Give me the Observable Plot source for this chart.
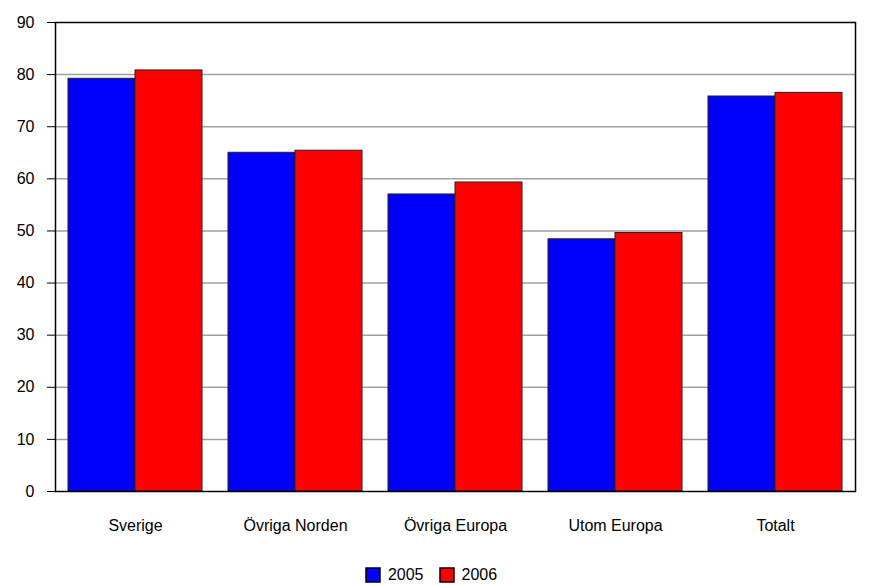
<!DOCTYPE html>
<html>
<head>
<meta charset="utf-8">
<script src="https://cdn.jsdelivr.net/npm/d3@7"></script>
<script src="https://cdn.jsdelivr.net/npm/@observablehq/plot@0.6"></script>
<style>
  body { margin: 0; background: #fff; font-family: "Liberation Sans", Arial, sans-serif; }
  #legend { display: flex; justify-content: center; margin-top: 8px; }
  #legend svg rect { stroke: #000; stroke-width: 1.5; }
</style>
</head>
<body>
<div id="chart"></div>
<div id="legend"></div>
<script>
const categories = ["Sverige", "Övriga Norden", "Övriga Europa", "Utom Europa", "Totalt"];
const series = ["2005", "2006"];
const values2005 = [79.2, 65.0, 57.0, 48.4, 75.8];
const values2006 = [80.8, 65.4, 59.3, 49.6, 76.5];
const yTicks = [0, 10, 20, 30, 40, 50, 60, 70, 80, 90];
const colors = ["#0000ff", "#ff0000"];

const rows2005 = categories.map((c, i) => ({category: c, year: series[0], value: values2005[i]}));
const rows2006 = categories.map((c, i) => ({category: c, year: series[1], value: values2006[i]}));

const colorScale = {domain: series, range: colors};

const plot = Plot.plot({
  width: 879,
  height: 550,
  marginTop: 22,
  marginBottom: 59,
  marginLeft: 55,
  marginRight: 24,
  style: {fontFamily: "Liberation Sans, Arial, sans-serif", fontSize: "16px", color: "#000", background: "#fff"},
  x: {domain: categories, paddingInner: 0.1625, paddingOuter: 0.075, label: null, tickSize: 0, tickPadding: 28},
  y: {domain: [0, 90], ticks: yTicks, label: null, tickSize: 8, tickPadding: 13},
  color: colorScale,
  marks: [
    Plot.ruleY(yTicks.filter(t => t > 0 && t < 90), {stroke: "#a0a0a0", strokeWidth: 1.5, strokeOpacity: 1}),
    Plot.barY(rows2005, {x: "category", y: "value", fill: "year", stroke: "#222", strokeWidth: 1, insetRight: 67}),
    Plot.barY(rows2006, {x: "category", y: "value", fill: "year", stroke: "#222", strokeWidth: 1, insetLeft: 67}),
    Plot.frame({stroke: "#000", strokeWidth: 1.5})
  ]
});
document.getElementById("chart").appendChild(plot);

const legend = Plot.legend({
  color: {...colorScale, type: "ordinal"},
  swatchSize: 14,
  style: {fontFamily: "Liberation Sans, Arial, sans-serif", fontSize: "16px", color: "#000"}
});
document.getElementById("legend").appendChild(legend);
</script>
</body>
</html>
